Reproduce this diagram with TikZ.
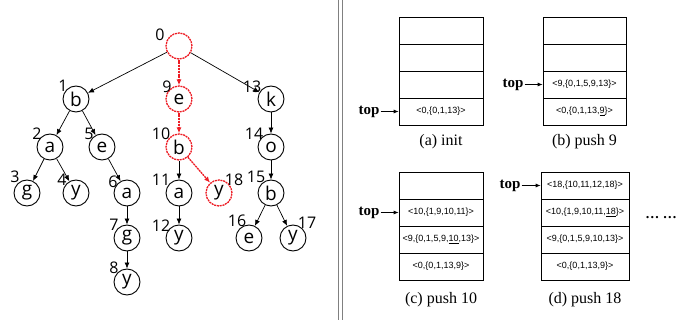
\documentclass[tikz,border=0pt]{standalone}
\usepackage{fontspec}
\setmainfont{Liberation Serif}
\newfontfamily\treefont{Open Sans}
\newfontfamily\cellfont{Liberation Sans}
\usetikzlibrary{arrows.meta}
\definecolor{pathred}{RGB}{237,28,36}

\tikzset{
  vtx/.style={circle,draw,line width=0.9pt,minimum size=26pt,inner sep=0pt,
    font=\treefont\fontsize{19}{20}\selectfont},
  hot/.style={draw=pathred,dash pattern=on 2pt off 0.8pt,line width=1.3pt},
  num/.style={inner sep=0pt,font=\treefont\fontsize{16}{18}\selectfont},
  edge/.style={-{Latex[length=6pt,width=5pt]},line width=0.7pt},
  hotedge/.style={edge,draw=pathred,fill=pathred,dash pattern=on 2pt off 0.8pt,line width=1.3pt},
  cell/.style={draw,line width=0.7pt,minimum width=84pt,minimum height=27pt,inner sep=0pt,
    font=\cellfont\fontsize{9}{10}\selectfont},
  toplbl/.style={inner sep=1pt,font=\bfseries\fontsize{15}{16}\selectfont},
  toparrow/.style={-{Latex[length=5pt,width=4pt]},line width=0.8pt},
  caption/.style={anchor=base,font=\fontsize{16}{18}\selectfont}
}

\begin{document}
\begin{tikzpicture}[x=1pt,y=-1pt]
   \useasboundingbox (0,0) rectangle (700,320);

   % trie
   \node[vtx,hot] (n0) at (179,46) {};
   \node[vtx] (n1) at (76,99) {b};
   \node[vtx,hot] (n9) at (179,99) {e};
   \node[vtx] (n13) at (271,99) {k};
   \node[vtx] (n2) at (50,147) {a};
   \node[vtx] (n5) at (102,147) {e};
   \node[vtx,hot] (n10) at (179,147) {b};
   \node[vtx] (n14) at (271,147) {o};
   \node[vtx] (n3) at (27,193) {g};
   \node[vtx] (n4) at (76,193) {y};
   \node[vtx] (n6) at (127,193) {a};
   \node[vtx] (n11) at (179,193) {a};
   \node[vtx,hot] (n18) at (219,193) {y};
   \node[vtx] (n15) at (271,193) {b};
   \node[vtx] (n7) at (127,238) {g};
   \node[vtx] (n12) at (179,238) {y};
   \node[vtx] (n16) at (249,238) {e};
   \node[vtx] (n17) at (293,238) {y};
   \node[vtx] (n8) at (127,282) {y};

   % node numbers
   \node[num] (l0) at (160,35) {0};
   \node[num] (l1) at (63,86) {1};
   \node[num] (l9) at (167,87) {9};
   \node[num] (l13) at (252,87) {13};
   \node[num] (l2) at (37,134) {2};
   \node[num] (l5) at (89,134) {5};
   \node[num] (l10) at (161,134) {10};
   \node[num] (l14) at (254,134) {14};
   \node[num] (l3) at (15,177) {3};
   \node[num] (l4) at (62,180) {4};
   \node[num] (l6) at (113,182) {6};
   \node[num] (l11) at (161,180) {11};
   \node[num] (l18) at (234,180) {18};
   \node[num] (l15) at (256,177) {15};
   \node[num] (l7) at (114,225) {7};
   \node[num] (l12) at (161,226) {12};
   \node[num] (l16) at (237,221) {16};
   \node[num] (l17) at (307,223) {17};
   \node[num] (l8) at (114,268) {8};

   % edges
   \draw[edge] (n0) -- (n1);
   \draw[hotedge] (n0) -- (n9);
   \draw[edge] (n0) -- (n13);
   \draw[edge] (n1) -- (n2);
   \draw[edge] (n1) -- (n5);
   \draw[hotedge] (n9) -- (n10);
   \draw[edge] (n13) -- (n14);
   \draw[edge] (n2) -- (n3);
   \draw[edge] (n2) -- (n4);
   \draw[edge] (n5) -- (n6);
   \draw[edge] (n10) -- (n11);
   \draw[hotedge] (n10) -- (n18);
   \draw[edge] (n14) -- (n15);
   \draw[edge] (n6) -- (n7);
   \draw[edge] (n11) -- (n12);
   \draw[edge] (n15) -- (n16);
   \draw[edge] (n15) -- (n17);
   \draw[edge] (n7) -- (n8);

   % separator
   \draw[gray,line width=1pt] (338,0) -- (338,320);
   \draw[gray,line width=1pt] (342,0) -- (342,320);

   % (a) init
   \node[cell] (a1) at (441,111.5) {<0,\{0,1,13\}>};
   \node[cell] (a2) at (441,84.5) {};
   \node[cell] (a3) at (441,57.5) {};
   \node[cell] (a4) at (441,30.5) {};
   \node[toplbl] (ta) at (369,111.5) {top};
   \draw[toparrow] (ta) -- (a1);
   \node[caption] (ca) at (441,146) {(a) init};

   % (b) push 9
   \node[cell,minimum width=83pt] (b1) at (584.5,111.5) {<0,\{0,1,13,\underline{9}\}>};
   \node[cell,minimum width=83pt] (b2) at (584.5,84.5) {<9,\{0,1,5,9,13\}>};
   \node[cell,minimum width=83pt] (b3) at (584.5,57.5) {};
   \node[cell,minimum width=83pt] (b4) at (584.5,30.5) {};
   \node[toplbl] (tb) at (513,84.5) {top};
   \draw[toparrow] (tb) -- (b2);
   \node[caption] (cb) at (584.5,146) {(b) push 9};

   % (c) push 10
   \node[cell] (c1) at (441,266.5) {<0,\{0,1,13,9\}>};
   \node[cell] (c2) at (441,239.5) {<9,\{0,1,5,9,\underline{10},13\}>};
   \node[cell] (c3) at (441,212.5) {<10,\{1,9,10,11\}>};
   \node[cell] (c4) at (441,185.5) {};
   \node[toplbl] (tc) at (369,212.5) {top};
   \draw[toparrow] (tc) -- (c3);
   \node[caption] (cc) at (441,303) {(c) push 10};

   % (d) push 18
   \node[cell,minimum width=88pt] (d1) at (585,266.5) {<0,\{0,1,13,9\}>};
   \node[cell,minimum width=88pt] (d2) at (585,239.5) {<9,\{0,1,5,9,10,13\}>};
   \node[cell,minimum width=88pt] (d3) at (585,212.5) {<10,\{1,9,10,11,\underline{18}\}>};
   \node[cell,minimum width=88pt] (d4) at (585,185.5) {<18,\{10,11,12,18\}>};
   \node[toplbl] (td) at (510,185.5) {top};
   \draw[toparrow] (td) -- (d4);
   \node[caption] (cd) at (585,303) {(d) push 18};

   \node[font=\bfseries\fontsize{14}{16}\selectfont] (more) at (661,218) {\dots\ \dots};
\end{tikzpicture}
\end{document}
